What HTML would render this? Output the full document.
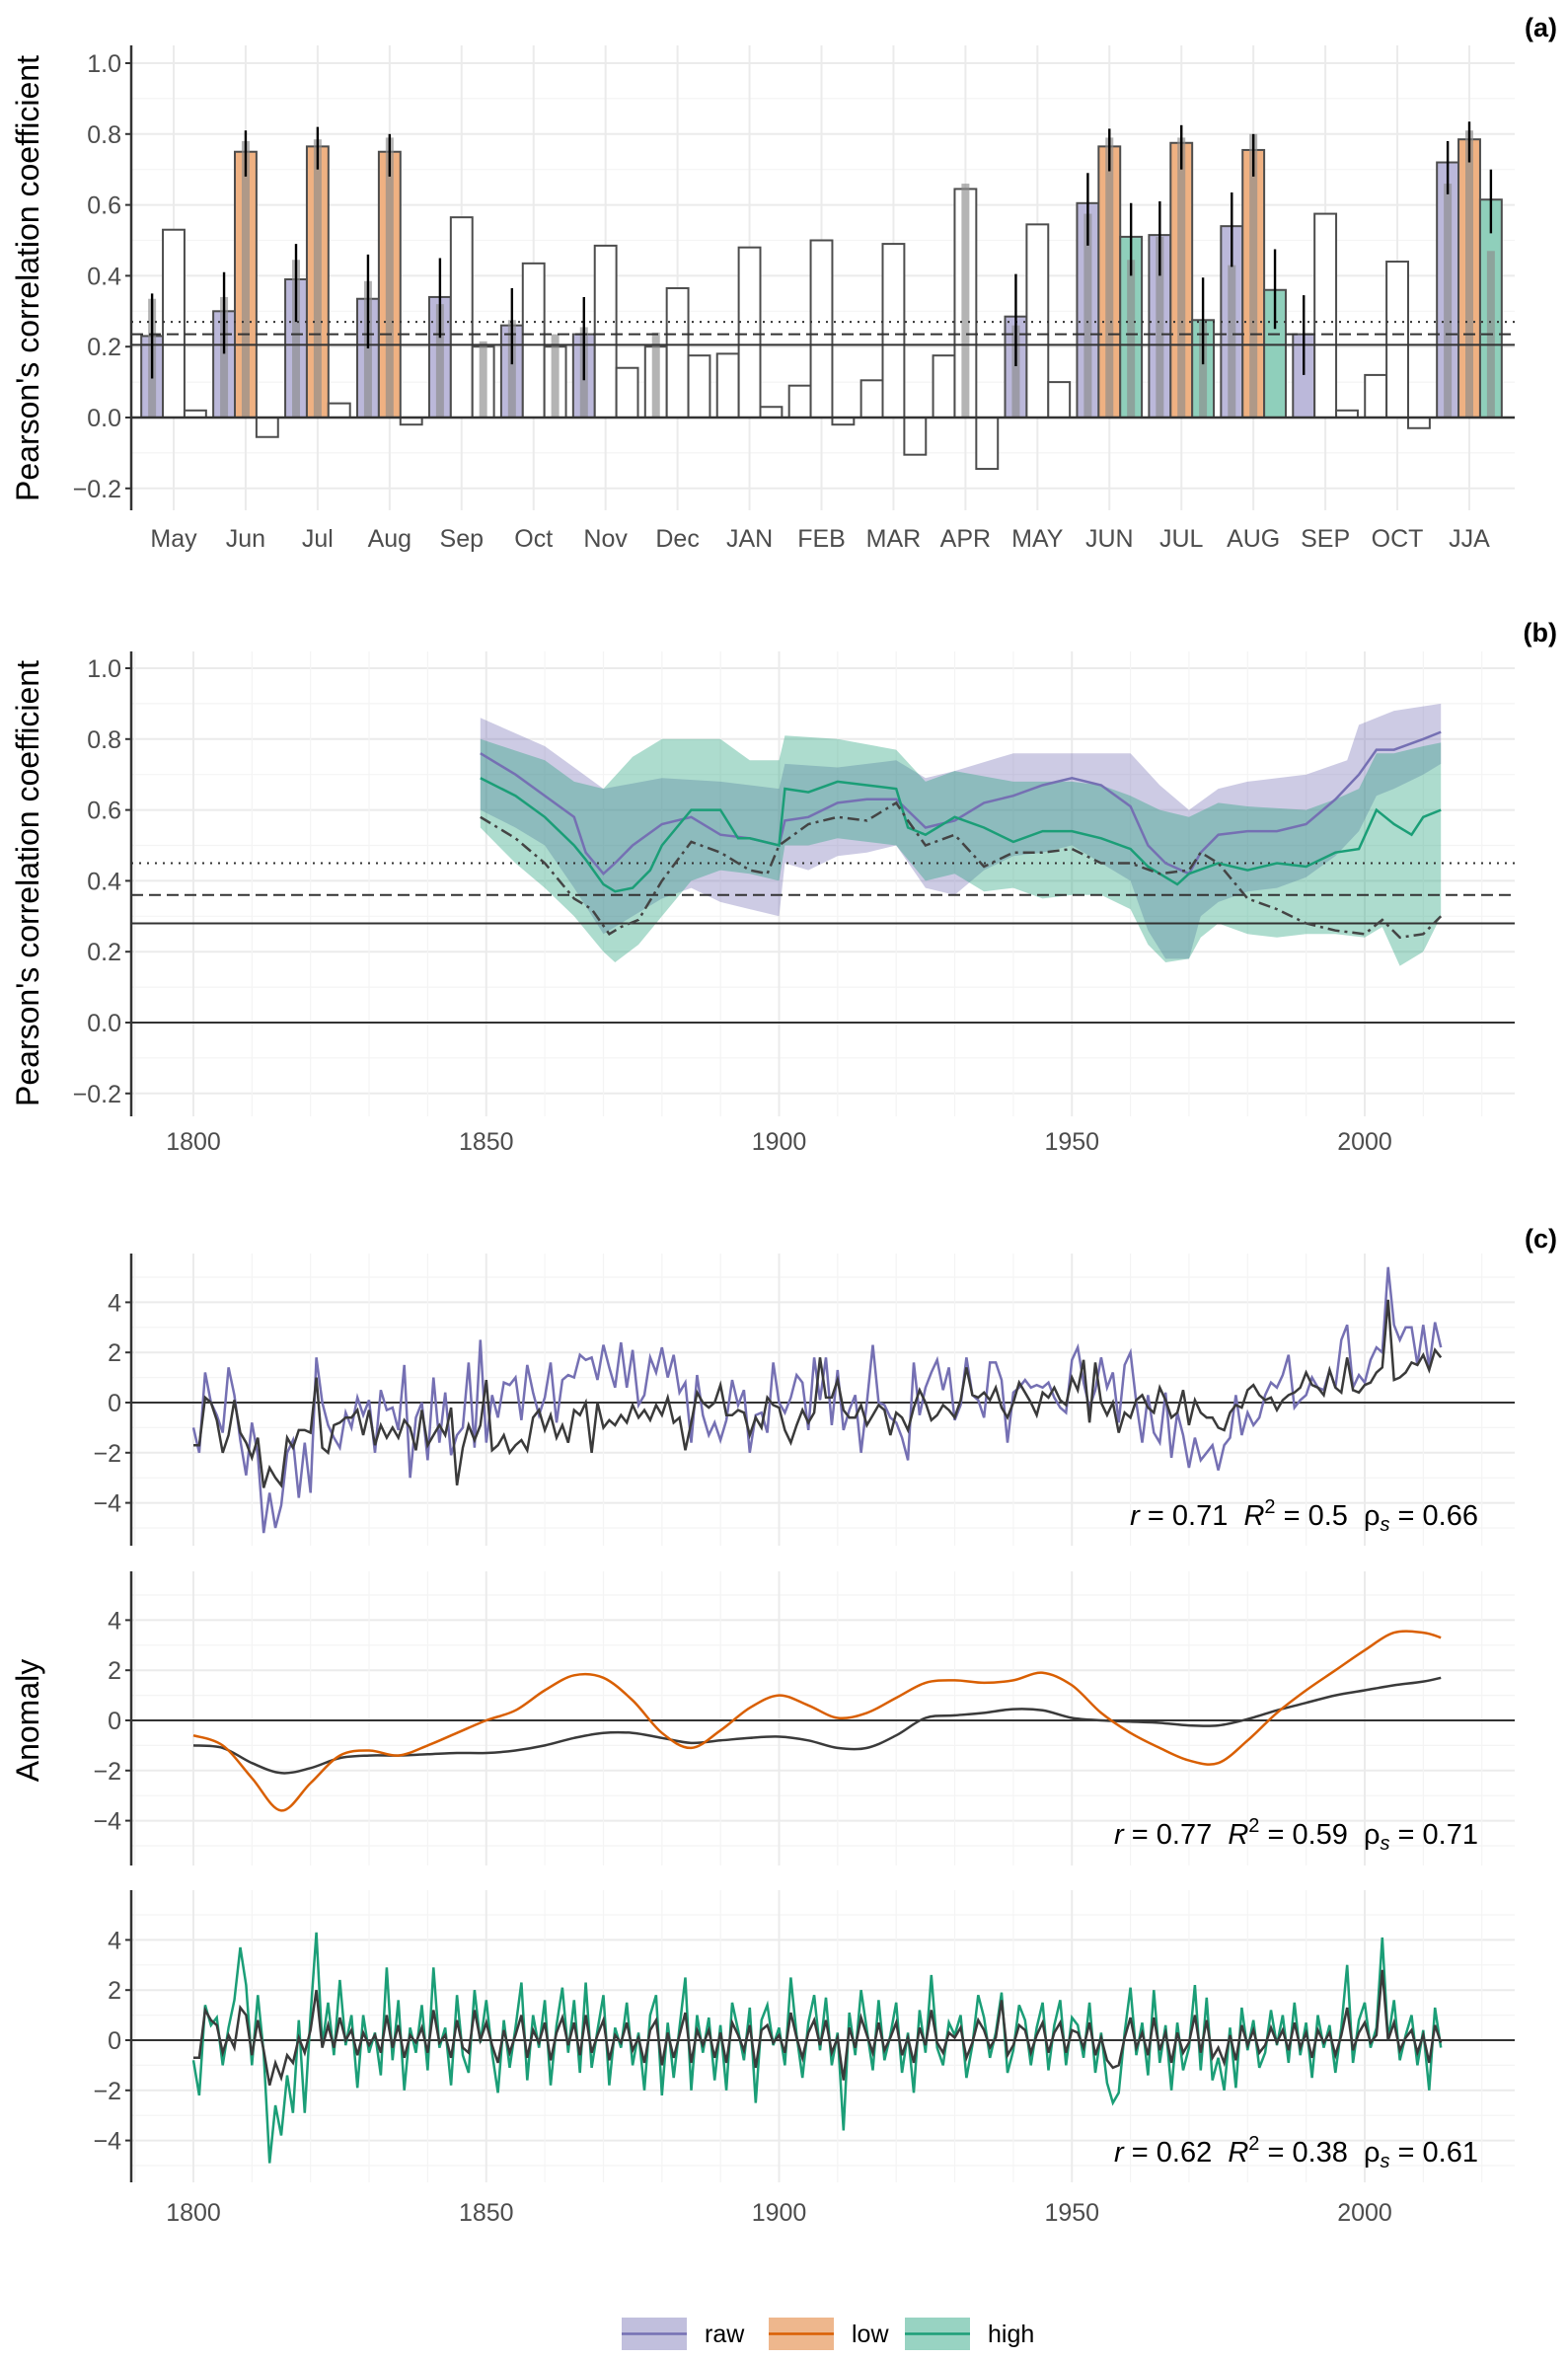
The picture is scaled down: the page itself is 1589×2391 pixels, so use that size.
<!DOCTYPE html>
<html><head><meta charset="utf-8"><style>
html,body{margin:0;padding:0;background:#fff}
svg{display:block;font-family:"Liberation Sans",Arial,sans-serif}
</style></head><body>
<svg id="fig" width="1589" height="2391" viewBox="0 0 1589 2391" xmlns="http://www.w3.org/2000/svg">
<rect width="1589" height="2391" fill="#fff"/>
<g id="pa"></g>
<g id="pb"></g>
<g id="pc"></g>
<g id="leg"></g>
</svg>
<script>
// ---------- Panel (a) data ----------
const catsA=["May","Jun","Jul","Aug","Sep","Oct","Nov","Dec","JAN","FEB","MAR","APR","MAY","JUN","JUL","AUG","SEP","OCT","JJA"];
const rawA=[0.23,0.30,0.39,0.335,0.34,0.26,0.235,0.20,0.18,0.09,0.105,0.175,0.285,0.605,0.515,0.54,0.235,0.12,0.72];
const lowA=[0.53,0.75,0.765,0.75,0.565,0.435,0.485,0.365,0.48,0.50,0.49,0.645,0.545,0.765,0.775,0.755,0.575,0.44,0.785];
const highA=[0.02,-0.055,0.04,-0.02,0.20,0.20,0.14,0.175,0.03,-0.02,-0.105,-0.145,0.10,0.51,0.275,0.36,0.02,-0.03,0.615];
const rawSig=[1,1,1,1,1,1,1,0,0,0,0,0,1,1,1,1,1,0,1];
const lowSig=[0,1,1,1,0,0,0,0,0,0,0,0,0,1,1,1,0,0,1];
const highSig=[0,0,0,0,0,0,0,0,0,0,0,0,0,1,1,1,0,0,1];
const rawLo=[0.11,0.18,0.27,0.195,0.225,0.15,0.105,null,null,null,null,null,0.145,0.485,0.40,0.425,0.12,null,0.63];
const rawHi=[0.35,0.41,0.49,0.46,0.45,0.365,0.34,null,null,null,null,null,0.405,0.69,0.61,0.635,0.345,null,0.78];
const lowLo=[null,0.68,0.70,0.68,null,null,null,null,null,null,null,null,null,0.695,0.70,0.68,null,null,0.72];
const lowHi=[null,0.81,0.82,0.80,null,null,null,null,null,null,null,null,null,0.815,0.825,0.80,null,null,0.835];
const highLo=[null,null,null,null,null,null,null,null,null,null,null,null,null,0.40,0.15,0.25,null,null,0.52];
const highHi=[null,null,null,null,null,null,null,null,null,null,null,null,null,0.605,0.395,0.475,null,null,0.70];
const rawGrey=[0.335,0.34,0.445,0.385,0.32,0.275,0.255,0.24,null,null,null,null,0.26,0.575,0.51,0.43,null,null,0.66];
const lowGrey=[null,0.78,0.785,0.79,null,null,null,null,null,null,null,0.66,null,0.79,0.79,0.80,null,null,0.81];
const highGrey=[null,null,null,null,0.215,0.235,null,null,null,null,null,null,null,0.445,0.27,null,null,null,0.47];
const refsA=[0.205,0.235,0.27];

// ---------- Panel (b) data ----------
const rawBY=[1849,1855,1860,1865,1867,1870,1872,1875,1880,1885,1890,1895,1900,1901,1905,1910,1915,1920,1925,1930,1935,1940,1945,1950,1955,1960,1963,1966,1970,1972,1975,1980,1985,1990,1995,1999,2002,2005,2010,2013];
const rawBV=[0.76,0.70,0.64,0.58,0.48,0.42,0.45,0.50,0.56,0.58,0.53,0.52,0.50,0.57,0.58,0.62,0.63,0.63,0.55,0.57,0.62,0.64,0.67,0.69,0.67,0.61,0.50,0.45,0.42,0.48,0.53,0.54,0.54,0.56,0.63,0.70,0.77,0.77,0.80,0.82];
const highBY=[1849,1855,1860,1865,1867,1870,1872,1875,1878,1880,1885,1890,1893,1895,1900,1901,1905,1910,1915,1920,1922,1925,1930,1935,1940,1945,1950,1955,1960,1963,1966,1968,1970,1975,1980,1985,1990,1995,1999,2002,2005,2008,2010,2013];
const highBV=[0.69,0.64,0.58,0.50,0.46,0.39,0.37,0.38,0.43,0.50,0.60,0.60,0.52,0.52,0.50,0.66,0.65,0.68,0.67,0.66,0.55,0.53,0.58,0.55,0.51,0.54,0.54,0.52,0.49,0.44,0.41,0.39,0.42,0.45,0.43,0.45,0.44,0.48,0.49,0.60,0.56,0.53,0.58,0.60];
const lowBY=[1849,1855,1860,1865,1868,1871,1873,1876,1880,1885,1890,1895,1898,1900,1905,1910,1915,1920,1922,1925,1930,1935,1940,1945,1950,1955,1960,1965,1970,1972,1975,1980,1985,1990,1995,2000,2003,2006,2010,2013];
const lowBV=[0.58,0.52,0.45,0.35,0.32,0.25,0.27,0.29,0.40,0.51,0.48,0.43,0.42,0.50,0.56,0.58,0.57,0.62,0.57,0.50,0.53,0.44,0.48,0.48,0.49,0.45,0.45,0.42,0.43,0.48,0.45,0.35,0.32,0.28,0.26,0.25,0.29,0.24,0.25,0.30];
const rawUpY=[1849,1860,1865,1870,1880,1890,1900,1901,1910,1920,1925,1930,1940,1950,1960,1965,1970,1975,1980,1990,1997,1999,2005,2013];
const rawUpV=[0.86,0.78,0.72,0.66,0.69,0.68,0.66,0.73,0.72,0.74,0.69,0.71,0.76,0.76,0.76,0.67,0.60,0.66,0.68,0.70,0.74,0.84,0.88,0.90];
const rawLoY=[1849,1855,1860,1865,1870,1875,1880,1885,1890,1895,1900,1901,1905,1910,1915,1920,1925,1930,1935,1940,1945,1950,1955,1960,1963,1966,1970,1972,1975,1980,1985,1990,1995,1999,2002,2005,2010,2013];
const rawLoV=[0.60,0.55,0.50,0.38,0.25,0.30,0.35,0.38,0.34,0.32,0.30,0.45,0.43,0.47,0.48,0.50,0.38,0.36,0.43,0.47,0.48,0.50,0.45,0.40,0.26,0.18,0.18,0.30,0.34,0.37,0.38,0.41,0.47,0.54,0.64,0.66,0.70,0.73];
const highUpY=[1849,1860,1865,1870,1875,1880,1890,1895,1900,1901,1910,1920,1925,1930,1940,1950,1955,1960,1965,1970,1975,1980,1990,1995,1999,2002,2005,2010,2013];
const highUpV=[0.80,0.74,0.68,0.66,0.75,0.80,0.80,0.74,0.74,0.81,0.80,0.77,0.68,0.71,0.68,0.68,0.67,0.64,0.60,0.58,0.62,0.61,0.60,0.63,0.66,0.76,0.76,0.78,0.79];
const highLoY=[1849,1855,1860,1865,1870,1872,1876,1880,1885,1890,1895,1900,1901,1905,1910,1920,1925,1930,1935,1940,1945,1950,1955,1960,1963,1966,1970,1972,1975,1980,1985,1990,1995,2000,2003,2006,2010,2013];
const highLoV=[0.55,0.45,0.38,0.30,0.20,0.17,0.22,0.30,0.40,0.43,0.42,0.40,0.50,0.50,0.52,0.50,0.40,0.42,0.37,0.38,0.35,0.36,0.36,0.32,0.22,0.17,0.18,0.24,0.28,0.25,0.24,0.25,0.25,0.24,0.27,0.16,0.20,0.30];
const refsB=[0.28,0.36,0.45];

// ---------- Panel (c) data ----------
const startYear=1800;
const raw1=[-1.0,-2.0,1.2,0.0,-0.5,-1.2,1.4,0.3,-1.5,-2.9,-0.8,-2.1,-5.2,-3.6,-5.0,-4.1,-2.0,-1.5,-3.8,-1.6,-3.6,1.8,0.0,-0.9,-1.4,-1.8,-0.4,-1.0,0.2,-0.5,0.1,-2.0,0.5,-0.3,-0.2,-1.1,1.5,-3.0,-0.6,0.0,-2.3,1.0,-1.6,0.4,-2.1,-1.3,-1.0,1.6,-1.8,2.5,-1.6,0.3,-0.6,0.8,0.7,1.0,-0.7,1.5,0.4,-0.5,0.2,1.6,-0.8,0.9,1.1,1.0,1.9,1.7,1.8,0.9,2.3,1.4,0.6,2.4,0.6,2.1,-0.1,0.3,1.8,1.2,2.2,1.0,1.9,0.4,0.8,-1.6,1.1,-0.5,-1.3,-0.8,-1.5,-0.7,0.9,-0.1,0.5,-2.0,-0.5,-0.4,-1.2,1.6,0.0,-0.4,0.2,1.1,0.8,-1.1,1.8,0.1,1.8,-0.9,1.3,-1.1,-0.3,0.3,-2.0,0.0,2.3,0.0,-0.1,-0.6,-0.8,-1.4,-2.3,1.6,-0.5,0.6,1.2,1.7,0.5,1.4,-0.7,-0.1,1.8,0.3,0.1,-0.6,1.6,1.6,0.9,-1.6,0.4,0.6,0.9,0.6,0.7,0.6,0.8,0.2,-0.2,-0.4,1.7,2.2,0.8,-0.2,0.5,1.8,0.6,1.2,-0.8,1.5,2.0,0.0,-1.6,0.3,-1.2,-1.6,0.4,-2.2,-0.4,-1.3,-2.6,-1.4,-2.3,-2.0,-1.7,-2.7,-1.7,-1.4,0.3,-1.3,-0.4,-0.9,-0.6,0.3,0.8,0.6,1.1,1.9,-0.2,0.1,0.3,1.0,0.6,0.5,1.3,0.6,2.5,3.1,0.6,1.1,0.8,1.7,2.2,2.0,5.4,3.1,2.5,3.0,3.0,1.5,3.1,1.4,3.2,2.2];
const obs1=[-1.7,-1.7,0.2,0.0,-0.7,-2.0,-1.3,0.1,-1.2,-1.6,-2.2,-1.4,-3.4,-2.6,-3.0,-3.3,-1.4,-1.8,-1.1,-1.1,-1.2,1.0,-1.8,-2.0,-0.9,-0.8,-0.6,-0.6,-0.3,-1.3,-0.3,-1.7,-0.9,-1.4,-1.0,-1.4,-0.7,-1.0,-1.9,-0.3,-1.7,-1.3,-0.9,-1.3,-0.2,-3.3,-1.8,-0.9,-1.5,-0.9,0.9,-1.9,-1.7,-1.3,-2.0,-1.7,-1.5,-1.9,-0.6,-0.3,-1.1,-0.5,-1.4,-0.9,-1.6,-0.3,-0.5,0.0,-2.0,0.0,-1.0,-0.7,-0.9,-0.5,-0.8,-0.1,-0.6,-0.3,-0.7,-0.1,-0.5,0.2,-0.8,-0.6,-1.9,-0.8,0.4,0.0,-0.2,0.0,0.7,-0.5,-0.5,-0.3,-0.4,-1.3,-0.6,-1.0,0.2,-0.1,-0.2,-1.1,-1.6,-0.9,-0.3,-0.8,-0.4,1.8,0.2,0.2,0.9,-0.3,-0.6,-0.6,-0.1,-0.9,-0.5,-0.1,-0.3,-1.3,-0.4,-0.6,-1.1,-0.2,0.5,0.0,-0.7,-0.5,-0.1,-0.3,-0.6,0.1,1.4,0.3,0.2,0.4,0.1,0.6,-0.2,-0.6,0.0,0.8,0.4,0.0,-0.5,0.4,0.2,0.6,0.1,-0.1,1.0,0.5,1.7,-0.8,1.6,0.0,-0.5,0.0,-1.2,-0.4,-0.6,0.1,0.3,-0.2,-0.4,0.6,0.1,-0.6,-0.4,0.5,-0.9,0.1,-0.4,-0.6,-0.6,-1.0,-1.1,-0.4,-0.1,-0.2,0.5,0.7,0.3,0.1,0.2,-0.3,0.1,0.3,0.4,0.6,1.2,0.7,0.6,0.3,1.3,0.6,0.4,1.8,0.5,0.4,0.7,0.8,1.2,1.4,4.1,0.9,1.0,1.2,1.6,1.5,1.9,1.3,2.1,1.8];
const smoothYears=[1800,1805,1810,1815,1820,1825,1830,1835,1840,1845,1850,1855,1860,1865,1870,1875,1880,1885,1890,1895,1900,1905,1910,1915,1920,1925,1930,1935,1940,1945,1950,1955,1960,1965,1970,1975,1980,1985,1990,1995,2000,2005,2010,2013];
const low2=[-0.6,-1.0,-2.3,-3.6,-2.5,-1.4,-1.2,-1.4,-1.0,-0.5,0.0,0.4,1.2,1.8,1.7,0.8,-0.5,-1.1,-0.4,0.5,1.0,0.6,0.1,0.3,0.9,1.5,1.6,1.5,1.6,1.9,1.4,0.3,-0.5,-1.1,-1.6,-1.7,-0.8,0.3,1.2,2.0,2.8,3.5,3.5,3.3];
const obs2=[-1.0,-1.1,-1.7,-2.1,-1.9,-1.5,-1.4,-1.4,-1.35,-1.3,-1.3,-1.2,-1.0,-0.7,-0.5,-0.5,-0.7,-0.9,-0.8,-0.7,-0.65,-0.8,-1.1,-1.1,-0.6,0.1,0.2,0.3,0.45,0.4,0.1,0.0,-0.05,-0.1,-0.2,-0.2,0.05,0.4,0.7,1.0,1.2,1.4,1.55,1.7];
const high3=[-0.8,-2.2,1.4,0.6,0.9,-1.0,0.5,1.6,3.7,2.2,-1.0,1.8,-0.5,-4.9,-2.6,-3.8,-1.4,-2.9,0.8,-2.9,1.0,4.3,-0.2,1.5,-0.6,2.4,-0.2,1.0,-1.9,1.0,-0.5,0.3,-1.4,2.9,-0.8,1.6,-2.0,0.5,-0.5,1.4,-1.2,2.9,-0.3,0.5,-1.8,1.8,-0.6,-1.3,2.0,-0.1,1.6,-0.5,-2.1,0.8,-1.1,0.5,2.3,-1.6,1.0,-0.3,1.6,-1.8,0.6,2.1,-0.5,1.6,-1.3,2.3,-1.1,0.4,1.8,-1.8,0.5,-0.3,1.5,-1.0,0.3,-2.0,1.0,1.8,-2.2,0.7,-1.5,0.5,2.5,-2.0,1.0,-0.5,0.9,-1.6,0.6,-2.0,1.5,0.4,-0.8,1.3,-2.5,0.8,1.4,-0.2,0.5,-1.0,2.5,0.2,-1.5,0.7,1.8,-0.4,1.7,-1.0,0.3,-3.6,1.1,-0.6,2.0,0.4,-1.2,1.6,-0.8,0.2,1.5,-1.3,0.3,-2.1,1.2,-0.5,2.6,-0.3,-1.0,0.7,0.2,1.0,-1.5,-0.2,1.8,0.9,-0.7,0.3,1.9,-1.3,-0.4,1.4,0.8,-1.0,0.5,1.5,-1.2,0.6,1.6,-1.0,0.9,0.6,-0.7,1.5,-1.3,0.3,-1.7,-2.5,-2.1,0.3,2.1,-0.6,0.7,-1.4,2.0,-0.9,0.6,-2.0,0.7,-1.2,-0.3,2.2,-1.2,1.7,-1.6,-0.7,-2.0,0.5,-1.9,1.3,-0.4,0.8,-1.1,-0.5,1.2,-0.2,1.0,-0.9,1.5,-0.6,0.7,-1.5,1.0,-0.3,0.6,-1.3,0.5,3.0,-0.9,0.8,1.5,-0.3,0.5,4.1,0.0,1.6,-0.8,0.2,1.0,-1.0,0.4,-2.0,1.3,-0.3];
const obs3=[-0.7,-0.7,1.2,0.8,0.6,-0.5,0.2,-0.3,1.3,1.0,-0.6,0.8,-0.4,-1.8,-0.9,-1.5,-0.6,-0.9,0.1,-0.5,0.4,2.0,-0.3,0.6,-0.3,0.9,0.0,0.4,-0.6,0.3,-0.2,0.2,-0.5,1.0,-0.3,0.6,-0.7,0.2,-0.1,0.5,-0.5,1.2,-0.1,0.2,-0.7,0.8,-0.3,-0.5,1.2,0.0,0.7,-0.2,-0.9,0.4,-0.5,0.2,1.0,-0.7,0.4,-0.1,0.7,-0.8,0.3,0.9,-0.2,0.7,-0.6,1.0,-0.5,0.2,0.8,-0.8,0.2,-0.1,0.7,-0.4,0.1,-0.9,0.4,0.8,-1.0,0.3,-0.7,0.2,1.1,-0.9,0.4,-0.2,0.4,-0.7,0.3,-0.9,0.7,0.2,-0.4,0.6,-1.1,0.4,0.6,-0.1,0.2,-0.5,1.1,0.1,-0.7,0.3,0.8,-0.2,0.8,-0.5,0.1,-1.6,0.5,-0.3,0.9,0.2,-0.5,0.7,-0.4,0.1,0.7,-0.6,0.1,-0.9,0.5,-0.2,1.2,-0.1,-0.5,0.3,0.1,0.5,-0.7,-0.1,0.8,0.4,-0.3,0.1,1.6,-0.6,-0.2,0.6,0.4,-0.5,0.2,0.7,-0.5,0.3,0.7,-0.5,0.4,0.3,-0.3,0.7,-0.6,0.1,-0.8,-1.1,-1.0,0.1,0.9,-0.3,0.3,-0.6,0.9,-0.4,0.3,-0.9,0.3,-0.5,-0.1,1.0,-0.5,0.8,-0.7,-0.3,-0.9,0.2,-0.8,0.6,-0.2,0.4,-0.5,-0.2,0.5,-0.1,0.4,-0.4,0.7,-0.3,0.3,-0.7,0.4,-0.1,0.3,-0.6,0.2,1.3,-0.4,0.3,0.7,-0.1,0.2,2.8,0.0,0.7,-0.4,0.1,0.4,-0.5,0.2,-0.9,0.6,-0.1];
const statsC=[["0.71","0.5","0.66"],["0.77","0.59","0.71"],["0.62","0.38","0.61"]];
const yTicksC=[4,2,0,-2,-4];
const xTicksC=[1800,1850,1900,1950,2000];

// ---------- drawing ----------
const NS="http://www.w3.org/2000/svg";
function mk(parent,tag,attrs,text){const e=document.createElementNS(NS,tag);for(const k in attrs)e.setAttribute(k,attrs[k]);if(text!==undefined)e.textContent=text;parent.appendChild(e);return e;}
const L=133,R=1535;
const COL={raw:"#7570b3",low:"#d95f02",high:"#1b9e77",rawF:"#bbb8da",lowF:"#efb182",highF:"#8fcfbb"};
const fmtNum=v=>(v<0?"\u2212":"")+Math.abs(v).toFixed(1);

// Panel a
(function(){
  const g=document.getElementById('pa');
  const y=v=>423-v*359, top=46, bot=517;
  const step=(1489-176)/18, x=i=>176+i*step, bw=step*0.3;
  for(let v=-0.3;v<=1.05;v+=0.1){const yy=y(v);if(yy<top||yy>bot)continue;const major=Math.abs(Math.round(v*10)%2)===0;
    const gl=mk(g,'line',{x1:L,x2:R,y1:yy,y2:yy,stroke:major?"#ebebeb":"#f4f4f4","stroke-width":major?2:1.2});
    }
  catsA.forEach((c,i)=>{const gl=mk(g,'line',{x1:x(i),x2:x(i),y1:top,y2:bot,stroke:"#ebebeb","stroke-width":2});});
  const series=[[rawA,rawSig,rawLo,rawHi,rawGrey,COL.rawF,-1,'raw'],[lowA,lowSig,lowLo,lowHi,lowGrey,COL.lowF,0,'low'],[highA,highSig,highLo,highHi,highGrey,COL.highF,1,'high']];
  catsA.forEach((c,i)=>{
    series.forEach(s=>{
      const v=s[0][i],cx=x(i)+s[6]*bw;
      const y0=y(0),y1=y(v);
      const b=mk(g,'rect',{x:cx-bw/2,y:Math.min(y0,y1),width:bw,height:Math.abs(y1-y0),fill:s[1][i]?s[5]:"#fff",stroke:"#4d4d4d","stroke-width":2});
      
      const gv=s[4][i];
      if(gv!==null){const gb=mk(g,'rect',{x:cx-4,y:Math.min(y(gv),y0),width:8,height:Math.abs(y(gv)-y0),fill:"#8c8c8c","fill-opacity":0.65});}
    });
  });
  refsA.forEach((v,k)=>{const l=mk(g,'line',{x1:L,x2:R,y1:y(v),y2:y(v),stroke:"#333","stroke-width":2,"stroke-dasharray":k===0?"":k===1?"12,6":"2,6"});});
  catsA.forEach((c,i)=>{series.forEach(s=>{const lo=s[2][i],hi=s[3][i];if(lo===null)return;const cx=x(i)+s[6]*bw;
    const e=mk(g,'line',{x1:cx,x2:cx,y1:y(lo),y2:y(hi),stroke:"#000","stroke-width":2.4});});});
  const z=mk(g,'line',{x1:L,x2:R,y1:y(0),y2:y(0),stroke:"#333","stroke-width":2.5});
  const ax=mk(g,'line',{x1:L,x2:L,y1:top,y2:bot,stroke:"#333","stroke-width":2.5});
  [1.0,0.8,0.6,0.4,0.2,0.0,-0.2].forEach(v=>{mk(g,'line',{x1:L-6,x2:L,y1:y(v),y2:y(v),stroke:"#333","stroke-width":2});
    const t=mk(g,'text',{x:L-10,y:y(v)+9,"text-anchor":"end","font-size":25,fill:"#4d4d4d"},fmtNum(v));});
  catsA.forEach((c,i)=>{const t=mk(g,'text',{x:x(i),y:554,"text-anchor":"middle","font-size":25,fill:"#4d4d4d"},c);});
  const yt=mk(g,'text',{x:0,y:0,transform:"translate(39,282) rotate(-90)","text-anchor":"middle","font-size":32,fill:"#000"},"Pearson's correlation coefficient");
  const pl=mk(g,'text',{x:1578,y:37,"text-anchor":"end","font-size":27,"font-weight":"bold"},"(a)");
})();

const xYear=yr=>196+(yr-1800)*5.935;
function linePath(xs,ys){return xs.map((a,i)=>(i?"L":"M")+a.toFixed(1)+","+ys[i].toFixed(1)).join("");}

// Panel b
(function(){
  const g=document.getElementById('pb');
  const y=v=>1036-v*359, top=660, bot=1131;
  for(let v=-0.3;v<=1.05;v+=0.1){const yy=y(v);if(yy<top||yy>bot)continue;const major=Math.abs(Math.round(v*10)%2)===0;
    const gl=mk(g,'line',{x1:L,x2:R,y1:yy,y2:yy,stroke:major?"#ebebeb":"#f4f4f4","stroke-width":major?2:1.2});}
  for(let yr=1790;yr<=2020;yr+=10){const major=yr%50===0;const gl=mk(g,'line',{x1:xYear(yr),x2:xYear(yr),y1:top,y2:bot,stroke:major?"#ebebeb":"#f4f4f4","stroke-width":major?2:1.2});}
  function ribbon(uy,uv,ly,lv,fill,name){
    const pts=uy.map((a,i)=>xYear(a).toFixed(1)+","+y(uv[i]).toFixed(1));
    for(let i=ly.length-1;i>=0;i--)pts.push(xYear(ly[i]).toFixed(1)+","+y(lv[i]).toFixed(1));
    const p=mk(g,'polygon',{points:pts.join(" "),fill:fill,"fill-opacity":0.36});}
  ribbon(rawUpY,rawUpV,rawLoY,rawLoV,COL.raw,'ribbon-raw');
  ribbon(highUpY,highUpV,highLoY,highLoV,COL.high,'ribbon-high');
  refsB.forEach((v,k)=>{const l=mk(g,'line',{x1:L,x2:R,y1:y(v),y2:y(v),stroke:"#333","stroke-width":2,"stroke-dasharray":k===0?"":k===1?"12,6":"2,6"});});
  const z=mk(g,'line',{x1:L,x2:R,y1:y(0),y2:y(0),stroke:"#333","stroke-width":2});
  const lr=mk(g,'path',{d:linePath(rawBY.map(xYear),rawBV.map(y)),fill:"none",stroke:COL.raw,"stroke-width":2.5});
  const lh=mk(g,'path',{d:linePath(highBY.map(xYear),highBV.map(y)),fill:"none",stroke:COL.high,"stroke-width":2.5});
  const ll=mk(g,'path',{d:linePath(lowBY.map(xYear),lowBV.map(y)),fill:"none",stroke:"#444","stroke-width":2.5,"stroke-dasharray":"12,5,3,5"});
  const ax=mk(g,'line',{x1:L,x2:L,y1:top,y2:bot,stroke:"#333","stroke-width":2.5});
  [1.0,0.8,0.6,0.4,0.2,0.0,-0.2].forEach(v=>{mk(g,'line',{x1:L-6,x2:L,y1:y(v),y2:y(v),stroke:"#333","stroke-width":2});
    const t=mk(g,'text',{x:L-10,y:y(v)+9,"text-anchor":"end","font-size":25,fill:"#4d4d4d"},fmtNum(v));});
  xTicksC.forEach(yr=>{const t=mk(g,'text',{x:xYear(yr),y:1165,"text-anchor":"middle","font-size":25,fill:"#4d4d4d"},yr);});
  const yt=mk(g,'text',{x:0,y:0,transform:"translate(39,895) rotate(-90)","text-anchor":"middle","font-size":32,fill:"#000"},"Pearson's correlation coefficient");
  const pl=mk(g,'text',{x:1578,y:650,"text-anchor":"end","font-size":27,"font-weight":"bold"},"(b)");
})();

// Panel c
function smoothPath(xs,ys){let d="M"+xs[0].toFixed(1)+","+ys[0].toFixed(1);
  for(let i=0;i<xs.length-1;i++){const x0=xs[Math.max(i-1,0)],y0=ys[Math.max(i-1,0)],x1=xs[i],y1=ys[i],x2=xs[i+1],y2=ys[i+1],x3=xs[Math.min(i+2,xs.length-1)],y3=ys[Math.min(i+2,xs.length-1)];
    d+="C"+(x1+(x2-x0)/6).toFixed(1)+","+(y1+(y2-y0)/6).toFixed(1)+" "+(x2-(x3-x1)/6).toFixed(1)+","+(y2-(y3-y1)/6).toFixed(1)+" "+x2.toFixed(1)+","+y2.toFixed(1);}
  return d;}
(function(){
  const g=document.getElementById('pc');
  const subs=[{zero:1421,top:1270,bot:1566,a:raw1,b:obs1,col:COL.raw,name:'raw',smooth:false,ty:1545},
              {zero:1743,top:1592,bot:1890,a:low2,b:obs2,col:COL.low,name:'low',smooth:true,ty:1868},
              {zero:2067,top:1915,bot:2211,a:high3,b:obs3,col:COL.high,name:'high',smooth:false,ty:2190}];
  const u=25.4;
  subs.forEach((s,si)=>{
    const sg=mk(g,'g',{});
    const y=v=>s.zero-v*u;
    for(let v=-5;v<=5;v++){const yy=y(v);if(yy<s.top||yy>s.bot)continue;const major=v%2===0;
      const gl=mk(sg,'line',{x1:L,x2:R,y1:yy,y2:yy,stroke:major?"#ebebeb":"#f4f4f4","stroke-width":major?2:1.2});}
    for(let yr=1790;yr<=2020;yr+=10){const major=yr%50===0;const gl=mk(sg,'line',{x1:xYear(yr),x2:xYear(yr),y1:s.top,y2:s.bot,stroke:major?"#ebebeb":"#f4f4f4","stroke-width":major?2:1.2});}
    const z=mk(sg,'line',{x1:L,x2:R,y1:y(0),y2:y(0),stroke:"#333","stroke-width":2});
    let xa;
    if(s.smooth){xa=smoothYears.map(xYear);}
    else{xa=s.a.map((v,i)=>xYear(startYear+i));}
    const dA=s.smooth?smoothPath(xa,s.a.map(y)):linePath(xa,s.a.map(y));
    const dB=s.smooth?smoothPath(xa,s.b.map(y)):linePath(xa,s.b.map(y));
    const lb=mk(sg,'path',{d:dB,fill:"none",stroke:"#3a3a3a","stroke-width":2.5});
    const la=mk(sg,'path',{d:dA,fill:"none",stroke:s.col,"stroke-width":2.5});
    if(!s.smooth){sg.insertBefore(la,lb);}
    const ax=mk(sg,'line',{x1:L,x2:L,y1:s.top,y2:s.bot,stroke:"#333","stroke-width":2.5});
    yTicksC.forEach(v=>{mk(sg,'line',{x1:L-6,x2:L,y1:y(v),y2:y(v),stroke:"#333","stroke-width":2});
      const t=mk(sg,'text',{x:L-10,y:y(v)+9,"text-anchor":"end","font-size":25,fill:"#4d4d4d"},(v<0?"\u2212":"")+Math.abs(v));});
    const st=statsC[si];
    const t=mk(sg,'text',{x:1498,y:s.ty,"text-anchor":"end","font-size":29,fill:"#000","xml:space":"preserve"});
    mk(t,'tspan',{"font-style":"italic"},"r");mk(t,'tspan',{}," = "+st[0]+"\u00a0\u00a0");
    mk(t,'tspan',{"font-style":"italic"},"R");mk(t,'tspan',{dy:-12,"font-size":20},"2");mk(t,'tspan',{dy:12}," = "+st[1]+"\u00a0\u00a0");
    mk(t,'tspan',{},"\u03c1");mk(t,'tspan',{dy:6,"font-size":20,"font-style":"italic"},"s");mk(t,'tspan',{dy:-6}," = "+st[2]);
  });
  xTicksC.forEach(yr=>{const t=mk(g,'text',{x:xYear(yr),y:2250,"text-anchor":"middle","font-size":25,fill:"#4d4d4d"},yr);});
  const yt=mk(g,'text',{x:0,y:0,transform:"translate(39,1743) rotate(-90)","text-anchor":"middle","font-size":32,fill:"#000"},"Anomaly");
  const pl=mk(g,'text',{x:1578,y:1264,"text-anchor":"end","font-size":27,"font-weight":"bold"},"(c)");
})();

// Legend
(function(){
  const g=document.getElementById('leg');
  const items=[["raw",COL.raw,630],["low",COL.low,779],["high",COL.high,917]];
  items.forEach(it=>{
    const k=mk(g,'rect',{x:it[2],y:2348,width:66,height:33,fill:it[1],"fill-opacity":0.45});
    const l=mk(g,'line',{x1:it[2],x2:it[2]+66,y1:2364.5,y2:2364.5,stroke:it[1],"stroke-width":2.5});
    const t=mk(g,'text',{x:it[2]+84,y:2373,"font-size":25,fill:"#000"},it[0]);
  });
})();
</script>
</body></html>
